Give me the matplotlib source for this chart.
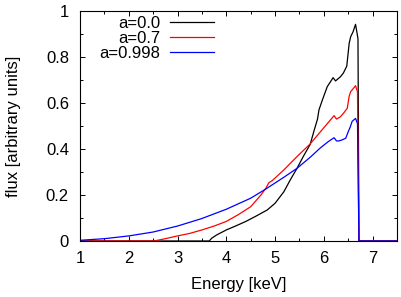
"""Line profiles (flux vs energy) for three spin values."""

import matplotlib

matplotlib.use("Agg")
import matplotlib.pyplot as plt
from matplotlib.ticker import MultipleLocator

plt.rcParams["font.family"] = ["Liberation Sans", "DejaVu Sans"]
plt.rcParams["font.size"] = 12

# a = 0.0
energy_a0 = [1.0, 3.65, 3.7, 3.8, 3.9, 4.0, 4.2, 4.4, 4.6, 4.84, 5.0, 5.18,
             5.31, 5.45, 5.58, 5.72, 5.8, 5.87, 5.9, 5.97, 6.07, 6.19, 6.24,
             6.34, 6.4, 6.47, 6.52, 6.55, 6.6, 6.65, 6.7, 6.72, 7.5]
flux_a0 = [0.0, 0.0, 0.012, 0.026, 0.037, 0.048, 0.066, 0.085, 0.107, 0.135,
           0.164, 0.214, 0.265, 0.316, 0.368, 0.42, 0.48, 0.53, 0.57, 0.613,
           0.671, 0.71, 0.696, 0.714, 0.73, 0.76, 0.86, 0.888, 0.91, 0.942,
           0.88, 0.0, 0.0]

# a = 0.7
energy_a07 = [1.0, 2.52, 2.75, 3.0, 3.25, 3.5, 3.75, 4.0, 4.25, 4.5, 4.71,
              4.81, 4.875, 4.94, 5.18, 5.45, 5.72, 5.93, 6.09, 6.21, 6.26,
              6.34, 6.42, 6.48, 6.52, 6.55, 6.65, 6.69, 6.72, 7.5]
flux_a07 = [0.0, 0.0, 0.01, 0.022, 0.033, 0.048, 0.065, 0.085, 0.115, 0.149,
            0.2, 0.229, 0.254, 0.262, 0.309, 0.367, 0.422, 0.475, 0.515,
            0.545, 0.53, 0.54, 0.56, 0.577, 0.63, 0.649, 0.675, 0.649, 0.0,
            0.0]

# a = 0.998
energy_a0998 = [1.0, 1.5, 2.0, 2.5, 3.0, 3.49, 4.0, 4.5, 4.81, 5.18, 5.45,
                5.72, 5.93, 6.09, 6.21, 6.26, 6.31, 6.38, 6.45, 6.5, 6.54,
                6.58, 6.65, 6.69, 6.72, 7.5]
flux_a0998 = [0.003, 0.01, 0.022, 0.039, 0.065, 0.097, 0.138, 0.186, 0.226,
              0.277, 0.316, 0.364, 0.405, 0.432, 0.449, 0.435, 0.435, 0.44,
              0.447, 0.475, 0.495, 0.52, 0.533, 0.51, 0.0, 0.0]

fig = plt.figure(figsize=(4.01, 2.97), dpi=100)
ax = fig.add_axes([0.1995, 0.1886, 0.7905, 0.7744])

ax.plot(energy_a0, flux_a0, color="black", lw=0.9, label="a=0.0")
ax.plot(energy_a07, flux_a07, color="#ff0000", lw=0.9, label="a=0.7")
ax.plot(energy_a0998, flux_a0998, color="#0000ff", lw=0.9, label="a=0.998")

ax.set_xlim(1, 7.5)
ax.set_ylim(0, 1)
ax.xaxis.set_major_locator(MultipleLocator(1))
ax.xaxis.set_minor_locator(MultipleLocator(0.5))
ax.yaxis.set_major_locator(MultipleLocator(0.2))
ax.yaxis.set_minor_locator(MultipleLocator(0.1))
ax.yaxis.set_major_formatter(plt.FuncFormatter(lambda v, _: f"{v:g}"))
ax.tick_params(which="both", direction="in", top=True, right=True, width=0.7)
ax.tick_params(which="major", length=3.5)
ax.tick_params(which="minor", length=2.5)
ax.tick_params(axis="x", which="major", pad=7)
ax.tick_params(axis="y", which="major", pad=8)
for spine in ax.spines.values():
    spine.set_linewidth(0.8)

ax.set_xlabel("Energy [keV]", labelpad=8)
ax.set_ylabel("flux [arbitrary units]", labelpad=18)

ax.legend(loc="upper right", bbox_to_anchor=(0.4227, 0.98), markerfirst=False,
          frameon=False, handlelength=2.64, handletextpad=0.6,
          labelspacing=0.0, borderaxespad=0, borderpad=0)

fig.savefig("out.png", dpi=100)
